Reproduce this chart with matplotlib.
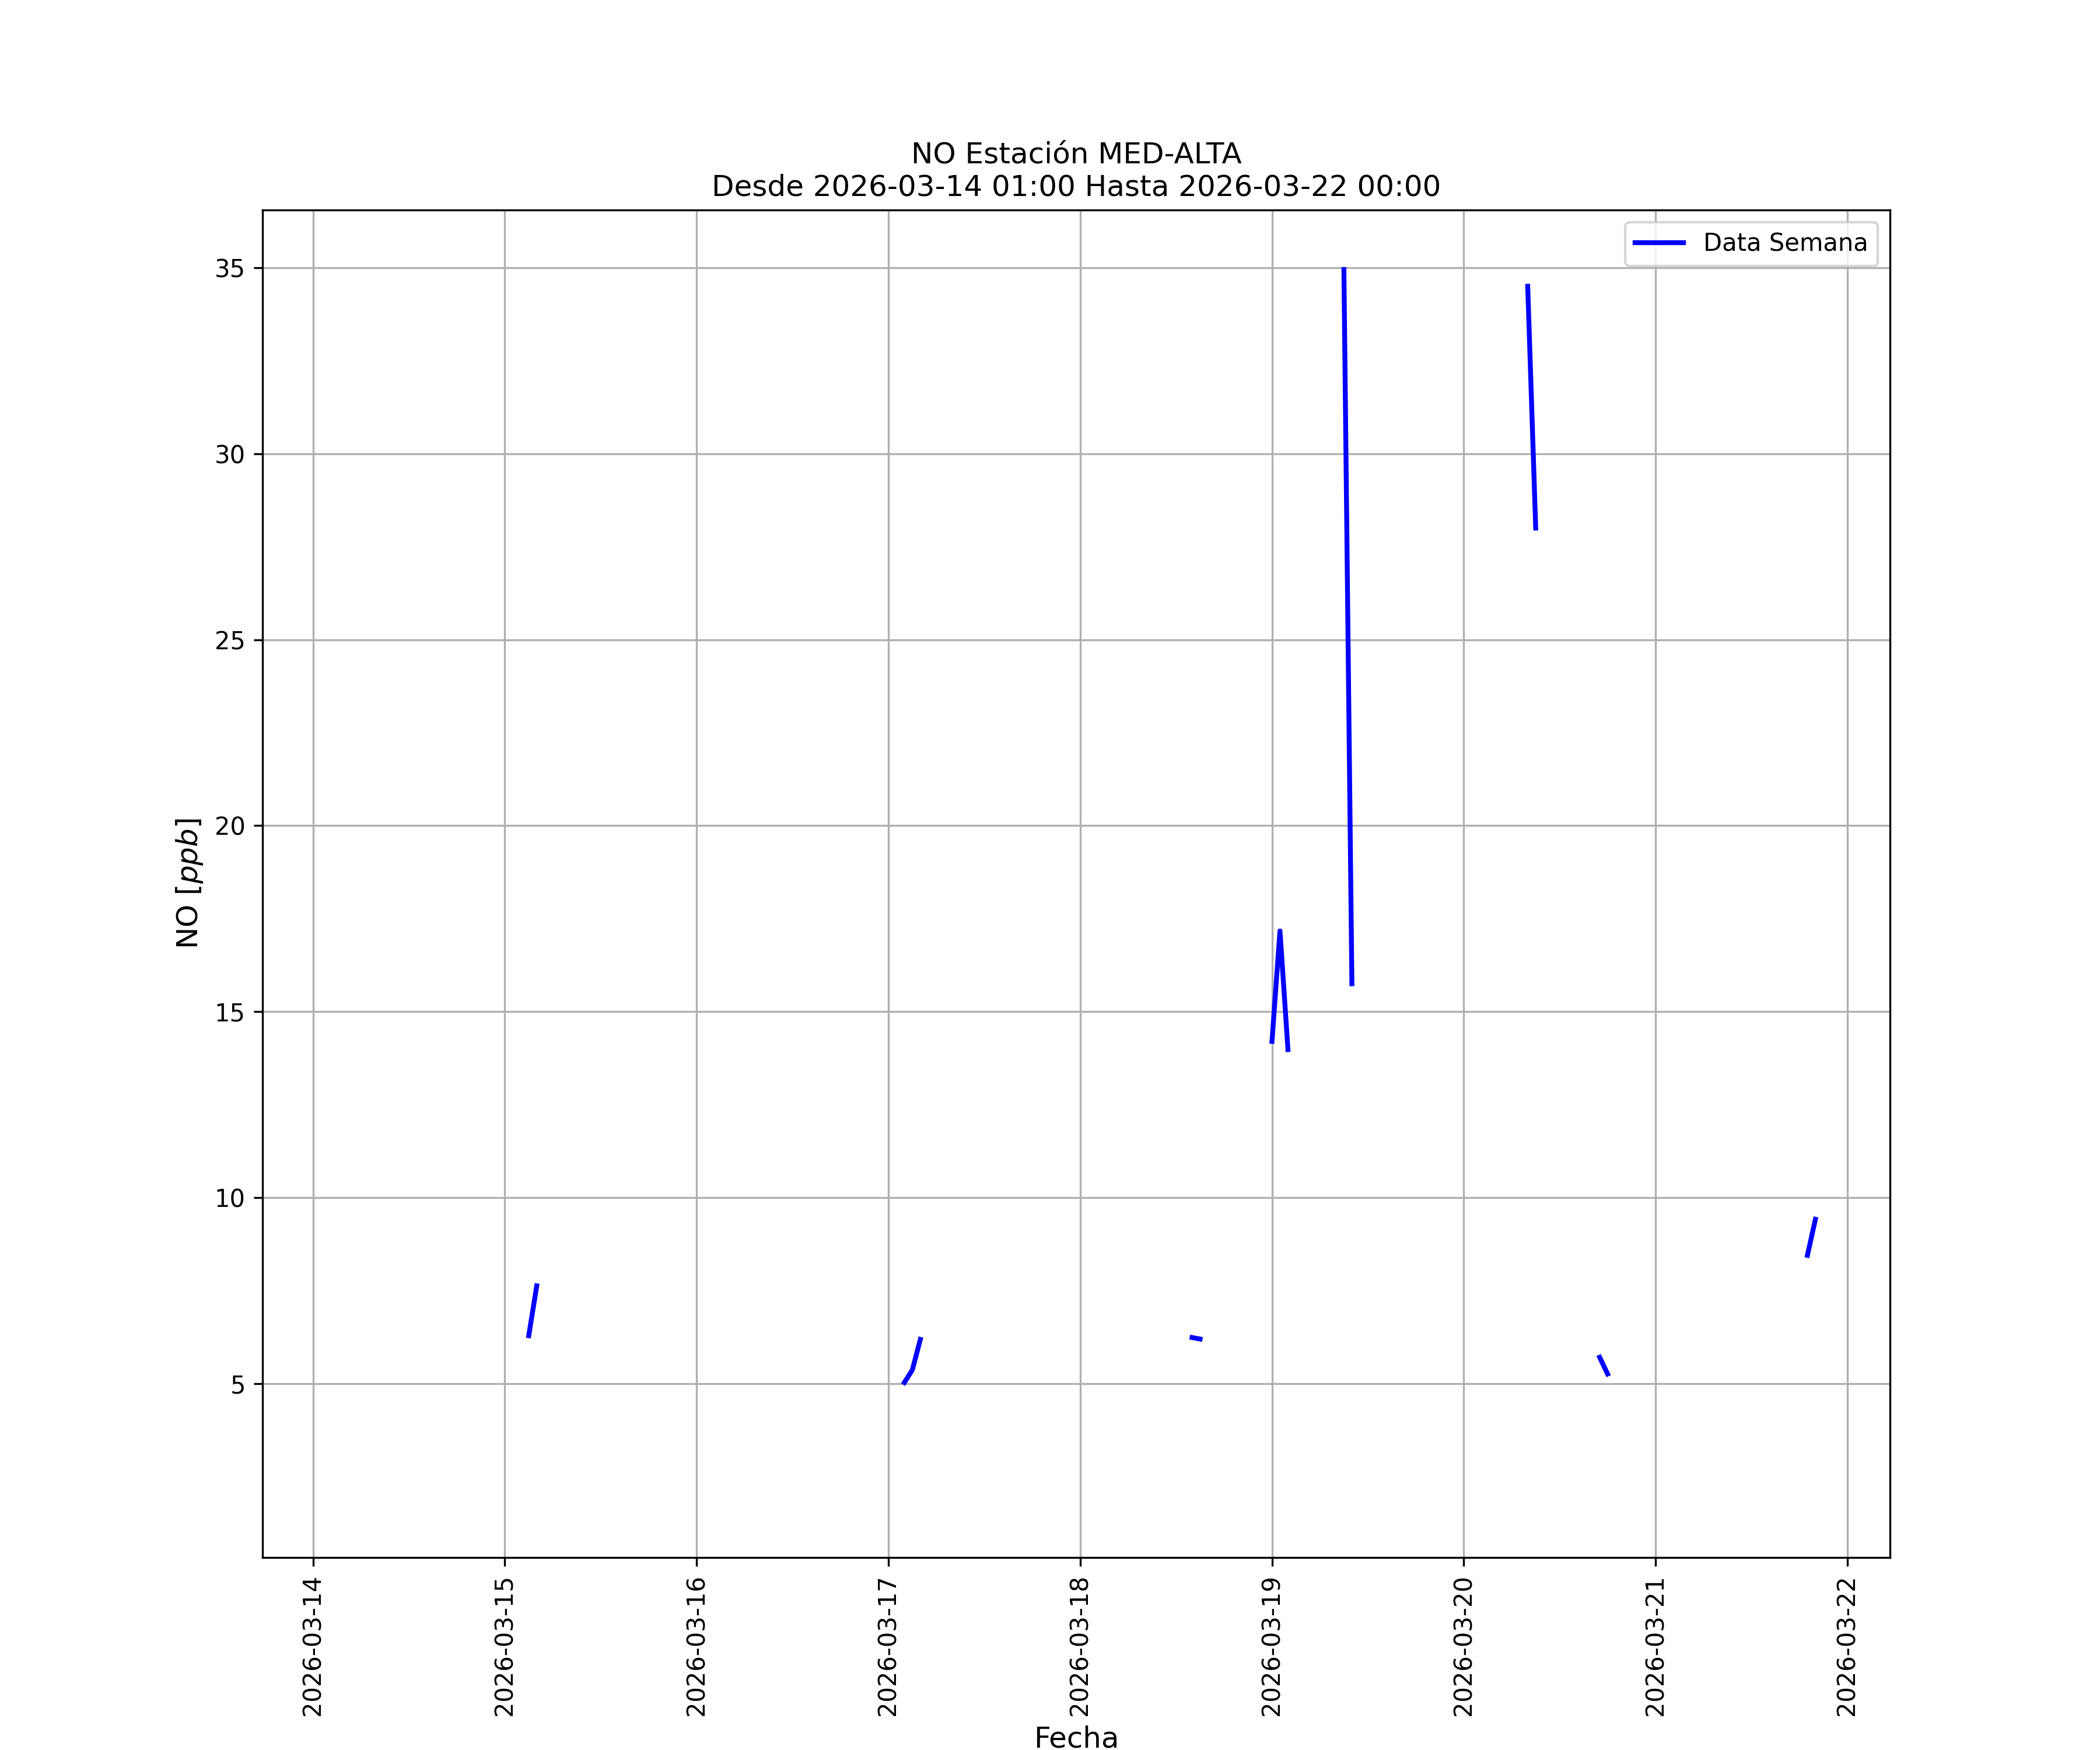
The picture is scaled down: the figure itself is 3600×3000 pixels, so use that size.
import numpy as np
import pandas as pd
import matplotlib
matplotlib.use('Agg')
import matplotlib.pyplot as plt
import matplotlib.dates as mdates

# horas con dato valido (el resto de la semana sin dato)
horas = ['2026-03-15 03:00', '2026-03-15 04:00',
         '2026-03-17 02:00', '2026-03-17 03:00', '2026-03-17 04:00',
         '2026-03-18 14:00', '2026-03-18 15:00',
         '2026-03-19 00:00', '2026-03-19 01:00', '2026-03-19 02:00',
         '2026-03-19 09:00', '2026-03-19 10:00',
         '2026-03-20 08:00', '2026-03-20 09:00',
         '2026-03-20 17:00', '2026-03-20 18:00',
         '2026-03-21 19:00', '2026-03-21 20:00']
valores = [6.29, 7.63,
           5.03, 5.37, 6.19,
           6.24, 6.20,
           14.2, 17.17, 13.98,
           34.95, 15.75,
           34.5, 28.0,
           5.71, 5.26,
           8.45, 9.42]

inicio = '2026-03-14 01:00'
fin = '2026-03-22 00:00'
dias = pd.date_range('2026-03-14', '2026-03-22', freq='D')

idx = pd.date_range(inicio, fin, freq='h')
serie = pd.Series(np.nan, index=idx)
serie[pd.to_datetime(horas)] = valores

fig = plt.figure(figsize=(12, 10), dpi=300)
ax = fig.add_subplot(111)
ax.plot(serie.index, serie.values, color='blue', linewidth=2, label='Data Semana')
ax.set_title('NO Estación MED-ALTA\nDesde ' + inicio + ' Hasta ' + fin, fontsize=12)
ax.set_xlabel('Fecha', fontsize=12)
ax.set_ylabel('NO [$ppb$]', fontsize=12)
ax.xaxis.set_major_locator(mdates.DayLocator())
ax.xaxis.set_major_formatter(mdates.DateFormatter('%Y-%m-%d'))
ax.set_xticks(dias)
plt.xticks(rotation=90)
ax.set_xlim(pd.Timestamp('2026-03-13 17:41'), pd.Timestamp('2026-03-22 05:20'))
ax.set_ylim(0.327, 36.55)
ax.grid(True)
ax.legend(loc='upper right')
fig.savefig('out.png', dpi=300)
